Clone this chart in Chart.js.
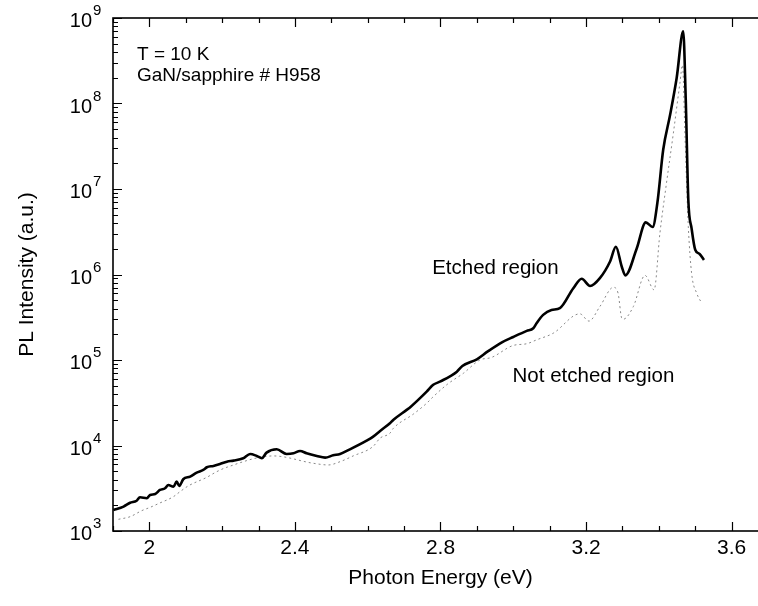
<!DOCTYPE html>
<html><head><meta charset="utf-8">
<script src="https://cdn.jsdelivr.net/npm/chart.js@4.4.1/dist/chart.umd.min.js"></script>
<style>
html,body{margin:0;padding:0;background:#fff;overflow:hidden;width:758px;height:606px;}
#wrap{position:relative;width:800px;height:606px;}
</style></head><body>
<div id="wrap"><canvas id="c"></canvas></div>
<script>
// Etched region (solid curve)
const etchedEnergy = [1.901,1.929,1.947,1.965,1.974,1.993,2.002,2.016,2.029,2.043,2.052,2.066,2.075,2.082,2.093,2.112,2.130,2.148,2.158,2.176,2.194,2.213,2.231,2.258,2.277,2.295,2.309,2.322,2.350,2.377,2.396,2.414,2.432,2.460,2.483,2.505,2.524,2.551,2.597,2.615,2.634,2.661,2.670,2.707,2.716,2.762,2.780,2.800,2.845,2.860,2.900,2.930,2.970,3.000,3.037,3.055,3.064,3.082,3.105,3.128,3.165,3.188,3.211,3.238,3.266,3.282,3.298,3.308,3.339,3.364,3.383,3.396,3.412,3.431,3.449,3.467,3.474,3.481,3.490,3.500,3.512,3.524];
const etchedIntensity = [1760,1930,2140,2260,2480,2420,2640,2710,3020,3160,3450,3300,3780,3370,4030,4330,4820,5180,5570,5770,6080,6470,6650,7100,7960,7550,7100,8260,9040,7960,8110,8630,8110,7550,7210,7690,7960,9020,11400,12700,14800,18200,19900,26100,27900,42700,51300,56200,73100,85100,102000,126000,162000,186000,219000,235000,269000,337000,385000,404000,692000,891000,733000,906000,1.42e6,2.11e6,1.24e6,977000,2.0e6,4.07e6,3.6e6,6.9e6,2.88e7,7.38e7,1.99e8,6.97e8,1.1e8,7.5e6,3.47e6,1.95e6,1.74e6,1.48e6];
// Not etched region (dotted curve)
const notEtchedEnergy = [1.915,1.947,1.979,2.002,2.027,2.066,2.084,2.107,2.158,2.185,2.213,2.341,2.451,2.492,2.524,2.560,2.615,2.634,2.661,2.670,2.726,2.762,2.780,2.820,2.863,2.908,2.940,3.000,3.037,3.064,3.110,3.183,3.208,3.238,3.275,3.288,3.298,3.302,3.330,3.362,3.387,3.403,3.421,3.440,3.458,3.465,3.472,3.481,3.490,3.504,3.518];
const notEtchedIntensity = [1370,1470,1730,1890,2110,2520,2880,3370,4250,4940,5570,7550,6190,5920,6470,7550,9770,12200,13900,15800,23400,31200,37200,52500,70000,100000,107000,148000,155000,172000,206000,347000,285000,422000,708000,605000,308000,300000,422000,977000,661000,3.05e6,1.17e7,4.52e7,1.74e8,2.82e8,4e7,3.64e6,1.04e6,605000,462000];

const xTickValues = [2, 2.4, 2.8, 3.2, 3.6];
const xTickLabels = ['2', '2.4', '2.8', '3.2', '3.6'];
const yDecades = [3, 4, 5, 6, 7, 8, 9];
const yTickBase = '10';
const xTitle = 'Photon Energy (eV)';
const yTitle = 'PL Intensity (a.u.)';
const noteTexts = ['T = 10 K', 'GaN/sapphire # H958', 'Etched region', 'Not etched region'];

const FONT = '"Liberation Sans", Arial, Helvetica, sans-serif';
Chart.defaults.font.family = FONT;
Chart.defaults.color = '#000';

function isMajorX(v){ return xTickValues.some(t => Math.abs(t - v) < 1e-6); }

const framePlugin = {
  id: 'frame',
  afterDatasetsDraw(chart){
    const {ctx, chartArea:a, scales:{x, y}} = chart;
    ctx.save();
    ctx.strokeStyle = '#000';
    ctx.lineWidth = 1.6;
    ctx.strokeRect(a.left, a.top, a.right - a.left, a.bottom - a.top);
    ctx.lineWidth = 1.2;
    ctx.beginPath();
    x.ticks.forEach(t => {
      const px = Math.round(x.getPixelForValue(t.value)) + 0.5;
      const L = isMajorX(t.value) ? 9 : 5;
      ctx.moveTo(px, a.bottom); ctx.lineTo(px, a.bottom - L);
      ctx.moveTo(px, a.top); ctx.lineTo(px, a.top + L);
    });
    y.ticks.forEach(t => {
      const py = Math.round(y.getPixelForValue(t.value)) + 0.5;
      const lg = Math.log10(t.value);
      const L = Math.abs(lg - Math.round(lg)) < 1e-6 ? 9 : 5;
      ctx.moveTo(a.left, py); ctx.lineTo(a.left + L, py);
      ctx.moveTo(a.right, py); ctx.lineTo(a.right - L, py);
    });
    ctx.stroke();

    // y tick labels: 10 with superscript exponent
    ctx.fillStyle = '#000';
    yDecades.forEach(n => {
      const py = y.getPixelForValue(Math.pow(10, n));
      ctx.font = '20px ' + FONT;
      ctx.textAlign = 'right';
      ctx.textBaseline = 'alphabetic';
      const xr = a.left - 21;
      ctx.fillText(yTickBase, xr, py + 9);
      ctx.font = '15px ' + FONT;
      ctx.textAlign = 'left';
      ctx.fillText(String(n), xr + 1, py - 3);
    });

    // annotations
    ctx.textAlign = 'left';
    ctx.textBaseline = 'alphabetic';
    ctx.font = '19px ' + FONT;
    ctx.fillText(noteTexts[0], a.left + 24, a.top + 42);
    ctx.fillText(noteTexts[1], a.left + 24, a.top + 63);
    ctx.font = '20.5px ' + FONT;
    ctx.fillText(noteTexts[2], x.getPixelForValue(2.777), y.getPixelForValue(1.02e6));
    ctx.fillText(noteTexts[3], x.getPixelForValue(2.998), y.getPixelForValue(5.58e4));
    ctx.restore();
  }
};

const chart = new Chart(document.getElementById('c'), {
  type: 'line',
  data: {
    datasets: [
      {
        label: 'Etched region',
        data: etchedEnergy.map((e, i) => ({x: e, y: etchedIntensity[i]})),
        borderColor: '#000',
        borderWidth: 2.6,
        pointRadius: 0,
        cubicInterpolationMode: 'monotone',
        order: 0
      },
      {
        label: 'Not etched region',
        data: notEtchedEnergy.map((e, i) => ({x: e, y: notEtchedIntensity[i]})),
        borderColor: '#888',
        borderWidth: 1,
        borderDash: [2, 3],
        pointRadius: 0,
        cubicInterpolationMode: 'monotone',
        order: 1
      }
    ]
  },
  options: {
    responsive: true,
    maintainAspectRatio: false,
    animation: false,
    layout: { padding: { top: 18, right: 32, left: 0, bottom: 0 } },
    plugins: { legend: { display: false }, tooltip: { enabled: false } },
    scales: {
      x: {
        type: 'linear',
        position: 'bottom',
        min: 1.9, max: 3.7,
        afterBuildTicks: s => {
          const arr = [];
          for (let k = 19; k <= 37; k++) arr.push({value: k / 10});
          s.ticks = arr;
        },
        afterFit: s => { s.height = 75; },
        grid: { display: false, drawTicks: false },
        border: { display: false },
        ticks: {
          autoSkip: false, maxRotation: 0, padding: 5,
          font: { size: 21 },
          callback: v => {
            const i = xTickValues.findIndex(t => Math.abs(t - v) < 1e-6);
            return i >= 0 ? xTickLabels[i] : '';
          }
        },
        title: { display: true, text: xTitle, font: { size: 21 }, padding: { top: 0, bottom: 15 } }
      },
      y: {
        type: 'logarithmic',
        min: 1e3, max: 1e9,
        afterBuildTicks: s => {
          const arr = [];
          for (let n = 3; n < 9; n++) for (let m = 1; m <= 9; m++) arr.push({value: m * Math.pow(10, n)});
          arr.push({value: 1e9});
          s.ticks = arr;
        },
        afterFit: s => { s.width = 113; },
        grid: { display: false, drawTicks: false },
        border: { display: false },
        ticks: { display: false },
        title: { display: true, text: yTitle, font: { size: 21 }, padding: { top: 15, bottom: 0 } }
      }
    }
  },
  plugins: [framePlugin]
});
</script>
</body></html>
